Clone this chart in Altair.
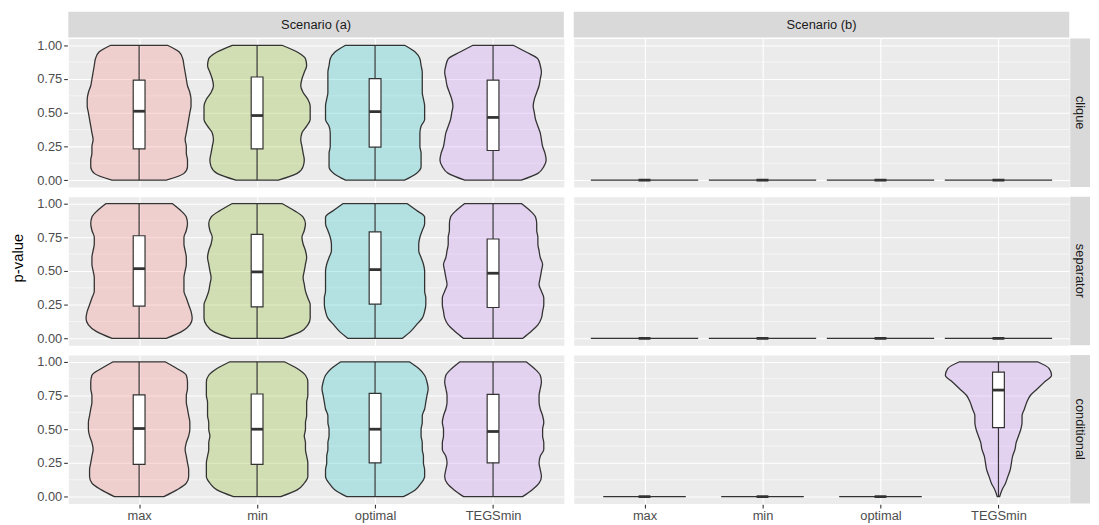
import altair as alt
import pandas as pd

# ---------------- data ----------------
methods = ["max", "min", "optimal", "TEGSmin"]
method_pos = [1, 2, 3, 4]
colors = ["#F8766D", "#7CAE00", "#00BFC4", "#C77CFF"]
scenarios = ["Scenario (a)", "Scenario (b)"]
metrics = ["clique", "separator", "conditional"]
major_breaks = [0.0, 0.25, 0.5, 0.75, 1.0]
minor_breaks = [0.125, 0.375, 0.625, 0.875]

# p-value levels at which violin half-widths were read (top to bottom)
y_levels = [1.00, 0.95, 0.90, 0.85, 0.80, 0.75, 0.70, 0.65, 0.60, 0.55, 0.50,
            0.45, 0.40, 0.35, 0.30, 0.25, 0.20, 0.15, 0.10, 0.05, 0.00]

# violin half-widths (in category units)
a_clique_max = [0.24, 0.34, 0.37, 0.38, 0.39, 0.40, 0.41, 0.43, 0.44, 0.44, 0.43, 0.42, 0.41, 0.40, 0.39, 0.40, 0.40, 0.41, 0.41, 0.38, 0.23]
a_clique_min = [0.21, 0.34, 0.41, 0.42, 0.40, 0.38, 0.37, 0.39, 0.43, 0.45, 0.45, 0.45, 0.42, 0.38, 0.37, 0.38, 0.39, 0.40, 0.39, 0.34, 0.18]
a_clique_optimal = [0.25, 0.34, 0.38, 0.39, 0.40, 0.40, 0.40, 0.40, 0.41, 0.42, 0.42, 0.42, 0.39, 0.38, 0.38, 0.38, 0.39, 0.39, 0.39, 0.35, 0.25]
a_clique_tegsmin = [0.17, 0.28, 0.38, 0.40, 0.41, 0.40, 0.39, 0.37, 0.35, 0.34, 0.35, 0.36, 0.38, 0.40, 0.41, 0.42, 0.44, 0.45, 0.43, 0.38, 0.24]
a_separator_max = [0.28, 0.35, 0.40, 0.41, 0.40, 0.38, 0.38, 0.39, 0.40, 0.40, 0.39, 0.38, 0.38, 0.38, 0.40, 0.42, 0.44, 0.45, 0.43, 0.36, 0.23]
a_separator_min = [0.21, 0.31, 0.39, 0.41, 0.40, 0.38, 0.39, 0.41, 0.42, 0.41, 0.40, 0.39, 0.40, 0.41, 0.43, 0.45, 0.45, 0.45, 0.43, 0.37, 0.22]
a_separator_optimal = [0.27, 0.35, 0.42, 0.42, 0.40, 0.38, 0.37, 0.37, 0.39, 0.41, 0.42, 0.42, 0.42, 0.42, 0.43, 0.43, 0.42, 0.40, 0.35, 0.30, 0.23]
a_separator_tegsmin = [0.24, 0.31, 0.36, 0.37, 0.37, 0.38, 0.38, 0.39, 0.40, 0.42, 0.41, 0.40, 0.39, 0.41, 0.43, 0.43, 0.42, 0.41, 0.38, 0.32, 0.25]
a_conditional_max = [0.22, 0.32, 0.40, 0.41, 0.41, 0.40, 0.40, 0.41, 0.42, 0.43, 0.43, 0.42, 0.40, 0.39, 0.40, 0.41, 0.42, 0.42, 0.40, 0.32, 0.21]
a_conditional_min = [0.23, 0.34, 0.41, 0.43, 0.43, 0.43, 0.42, 0.42, 0.42, 0.41, 0.41, 0.40, 0.41, 0.41, 0.42, 0.43, 0.43, 0.43, 0.40, 0.34, 0.20]
a_conditional_optimal = [0.29, 0.37, 0.42, 0.44, 0.45, 0.44, 0.43, 0.42, 0.40, 0.40, 0.39, 0.39, 0.40, 0.40, 0.41, 0.41, 0.42, 0.42, 0.39, 0.34, 0.24]
a_conditional_tegsmin = [0.28, 0.35, 0.40, 0.41, 0.40, 0.39, 0.39, 0.40, 0.42, 0.43, 0.42, 0.42, 0.43, 0.43, 0.40, 0.39, 0.40, 0.41, 0.39, 0.33, 0.25]
b_conditional_tegsmin = [0.33, 0.43, 0.45, 0.39, 0.33, 0.27, 0.24, 0.22, 0.20, 0.20, 0.19, 0.17, 0.15, 0.14, 0.12, 0.11, 0.10, 0.08, 0.06, 0.03, 0.01]

violins = [
    ("Scenario (a)", "clique", "max", a_clique_max),
    ("Scenario (a)", "clique", "min", a_clique_min),
    ("Scenario (a)", "clique", "optimal", a_clique_optimal),
    ("Scenario (a)", "clique", "TEGSmin", a_clique_tegsmin),
    ("Scenario (a)", "separator", "max", a_separator_max),
    ("Scenario (a)", "separator", "min", a_separator_min),
    ("Scenario (a)", "separator", "optimal", a_separator_optimal),
    ("Scenario (a)", "separator", "TEGSmin", a_separator_tegsmin),
    ("Scenario (a)", "conditional", "max", a_conditional_max),
    ("Scenario (a)", "conditional", "min", a_conditional_min),
    ("Scenario (a)", "conditional", "optimal", a_conditional_optimal),
    ("Scenario (a)", "conditional", "TEGSmin", a_conditional_tegsmin),
    ("Scenario (b)", "conditional", "TEGSmin", b_conditional_tegsmin),
]

# collapsed violins (all p-values ~0) in scenario (b): half-widths
b_clique_flat = [0.455, 0.455, 0.455, 0.455]
b_separator_flat = [0.455, 0.455, 0.455, 0.455]
b_conditional_flat = [0.35, 0.35, 0.35]

# box plot stats per method: q1, median, q3
a_clique_q1 = [0.232, 0.232, 0.245, 0.220]
a_clique_med = [0.511, 0.479, 0.508, 0.465]
a_clique_q3 = [0.741, 0.765, 0.753, 0.741]
a_separator_q1 = [0.239, 0.234, 0.254, 0.229]
a_separator_med = [0.517, 0.493, 0.510, 0.483]
a_separator_q3 = [0.761, 0.771, 0.790, 0.737]
a_conditional_q1 = [0.239, 0.239, 0.251, 0.251]
a_conditional_med = [0.505, 0.500, 0.500, 0.483]
a_conditional_q3 = [0.754, 0.761, 0.766, 0.758]
b_conditional_q1 = [0.0, 0.0, 0.0, 0.512]
b_conditional_med = [0.0, 0.0, 0.0, 0.790]
b_conditional_q3 = [0.0, 0.0, 0.0, 0.923]
b_conditional_hi = [0.0, 0.0, 0.0, 1.0]
b_zero = [0.0, 0.0, 0.0, 0.0]
a_hi = [1.0, 1.0, 1.0, 1.0]

boxes = [
    ("Scenario (a)", "clique", a_clique_q1, a_clique_med, a_clique_q3, b_zero, a_hi),
    ("Scenario (a)", "separator", a_separator_q1, a_separator_med, a_separator_q3, b_zero, a_hi),
    ("Scenario (a)", "conditional", a_conditional_q1, a_conditional_med, a_conditional_q3, b_zero, a_hi),
    ("Scenario (b)", "clique", b_zero, b_zero, b_zero, b_zero, b_zero),
    ("Scenario (b)", "separator", b_zero, b_zero, b_zero, b_zero, b_zero),
    ("Scenario (b)", "conditional", b_conditional_q1, b_conditional_med, b_conditional_q3, b_zero, b_conditional_hi),
]
flats = [
    ("Scenario (b)", "clique", b_clique_flat),
    ("Scenario (b)", "separator", b_separator_flat),
    ("Scenario (b)", "conditional", b_conditional_flat),
]
BOX_HALF = 0.05

# ---------------- build table ----------------
rows = []
for sc, me, mt, hw in violins:
    p = method_pos[methods.index(mt)]
    for y, w in zip(y_levels, hw):
        rows.append(dict(kind="violin", scenario=sc, metric=me, method=mt, y=y, xl=p - w, xr=p + w))
for sc, me, hw in flats:
    for mt, p, w in zip(methods, method_pos, hw):
        rows.append(dict(kind="flat", scenario=sc, metric=me, method=mt, y=0.0, xl=p - w, xr=p + w))
for sc, me, q1, med, q3, lo, hi in boxes:
    for i, mt in enumerate(methods):
        p = method_pos[i]
        rows.append(dict(kind="box", scenario=sc, metric=me, method=mt, x=p,
                         xl=p - BOX_HALF, xr=p + BOX_HALF,
                         q1=q1[i], med=med[i], q3=q3[i], lo=lo[i], hi=hi[i]))
for sc in scenarios:
    for me in metrics:
        rows.append(dict(kind="strip", scenario=sc, metric=me))
        for mb in minor_breaks:
            rows.append(dict(kind="minor", scenario=sc, metric=me, y=mb))
df = pd.DataFrame(rows)

# ---------------- chart ----------------
W, H = 501, 150
FONT = "Liberation Sans"
OUT = "#333333"

xscale = alt.Scale(domain=[0.4, 4.6], nice=False, zero=False)
yscale = alt.Scale(domain=[-0.05, 1.05], nice=False, zero=False)
label_expr = "[''," + ",".join("'%s'" % m for m in methods) + "][datum.value]"
xaxis = alt.Axis(values=method_pos, labelExpr=label_expr, title=None, grid=True)
yaxis = alt.Axis(values=major_breaks, format=".2f", title=None, grid=True)


def X(field):
    return alt.X(field, type="quantitative", scale=xscale, axis=xaxis)


def Y(field):
    return alt.Y(field, type="quantitative", scale=yscale, axis=yaxis)


base = alt.Chart()

minor = base.mark_rule(color="white", strokeWidth=0.55).encode(
    y=Y("y"), x=alt.value(0), x2=alt.value(W)
).transform_filter("datum.kind == 'minor'")

violin = base.mark_area(
    orient="horizontal", interpolate="monotone", fillOpacity=0.24,
    stroke=OUT, strokeWidth=1.3
).encode(
    y=Y("y"), x=X("xl"), x2="xr:Q",
    fill=alt.Fill("method:N", scale=alt.Scale(domain=methods, range=colors), legend=None),
    detail="method:N",
).transform_filter("datum.kind == 'violin'")

flat = base.mark_rule(color=OUT, strokeWidth=1.3).encode(
    y=Y("y"), x=X("xl"), x2="xr:Q"
).transform_filter("datum.kind == 'flat'")

whisk = base.mark_rule(color=OUT, strokeWidth=1.2).encode(
    x=X("x"), y=Y("lo"), y2="hi:Q"
).transform_filter("datum.kind == 'box' && datum.hi > datum.lo")

box = base.mark_rect(fill="white", stroke=OUT, strokeWidth=1.2).encode(
    x=X("xl"), x2="xr:Q", y=Y("q1"), y2="q3:Q"
).transform_filter("datum.kind == 'box'")

median = base.mark_rule(color=OUT, strokeWidth=2.8).encode(
    x=X("xl"), x2="xr:Q", y=Y("med")
).transform_filter("datum.kind == 'box'")

top_rect = base.mark_rect(fill="#D9D9D9").encode(
    x=alt.value(0), x2=alt.value(W), y=alt.value(-27), y2=alt.value(-1)
).transform_filter("datum.kind == 'strip' && datum.metric == 'clique'")

top_text = base.mark_text(font=FONT, fontSize=13, color="#1A1A1A", align="center", baseline="middle").encode(
    x=alt.value(W / 2), y=alt.value(-14), text="scenario:N"
).transform_filter("datum.kind == 'strip' && datum.metric == 'clique'")

right_rect = base.mark_rect(fill="#D9D9D9").encode(
    x=alt.value(W + 1), x2=alt.value(W + 21), y=alt.value(0), y2=alt.value(H)
).transform_filter("datum.kind == 'strip' && datum.scenario == 'Scenario (b)'")

right_text = base.mark_text(font=FONT, fontSize=13, color="#1A1A1A", align="center",
                            baseline="middle", angle=90).encode(
    x=alt.value(W + 11), y=alt.value(H / 2), text="metric:N"
).transform_filter("datum.kind == 'strip' && datum.scenario == 'Scenario (b)'")

panel = alt.layer(
    minor, violin, flat, whisk, box, median, top_rect, top_text, right_rect, right_text
).properties(width=W, height=H)

chart = panel.facet(
    row=alt.Row("metric:N", sort=metrics,
                header=alt.Header(labels=False, title="p-value", titleOrient="left",
                                  titleFont=FONT, titleFontSize=15, titleFontWeight="normal",
                                  titleColor="black", titlePadding=0, labelPadding=0)),
    column=alt.Column("scenario:N", sort=scenarios, header=alt.Header(labels=False, title=None)),
    spacing={"row": 8, "column": 8},
    align="each",
    data=df,
).properties(
    padding={"left": 2, "top": 0, "right": 0, "bottom": 0}
).configure_view(
    fill="#EBEBEB", stroke="transparent"
).configure_axis(
    gridColor="white", gridWidth=1.1, domain=False,
    tickColor=OUT, tickSize=3.7, tickWidth=1.1,
    labelColor="#4D4D4D", labelFontSize=13, labelFont=FONT, labelPadding=2,
)

chart.save("out.html", embed_options={"renderer": "svg", "actions": False})
